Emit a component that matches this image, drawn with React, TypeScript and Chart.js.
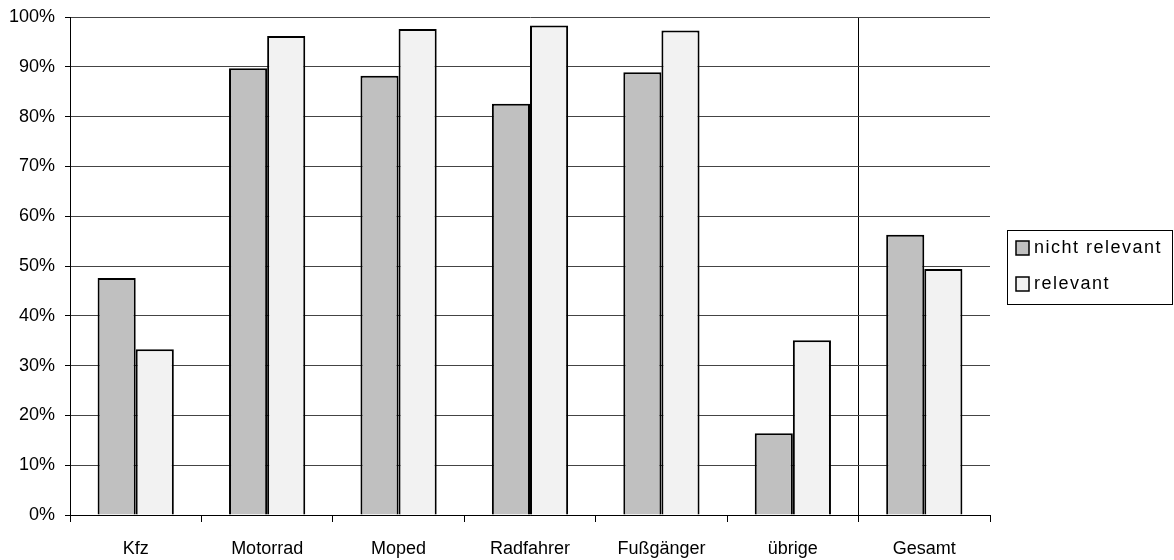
import React, { useEffect, useRef } from "react";
import { Chart, registerables } from "chart.js";

Chart.register(...registerables);

const categories = ["Kfz", "Motorrad", "Moped", "Radfahrer", "Fußgänger", "übrige", "Gesamt"];
const nichtRelevant = [47.6, 89.7, 88.2, 82.6, 88.9, 16.4, 56.3];
const relevant = [33.3, 96.2, 97.6, 98.3, 97.3, 35.1, 49.4];
const seriesNames = ["nicht relevant", "relevant"];
const seriesColors = ["#c0c0c0", "#f2f2f2"];

const FONT = "'Liberation Sans', Arial, sans-serif";

const legendPlugin = {
  id: "boxLegend",
  afterDraw(chart: any) {
    const ctx = chart.ctx;
    ctx.save();
    ctx.strokeStyle = "#000";
    ctx.lineWidth = 1;
    ctx.strokeRect(1007.5, 230.5, 165, 74);
    const rows = [248, 284];
    chart.data.datasets.forEach((ds: any, i: number) => {
      const cy = rows[i];
      ctx.fillStyle = ds.backgroundColor;
      ctx.fillRect(1016, cy - 7, 13, 14);
      ctx.lineWidth = 1.5;
      ctx.strokeStyle = "#000";
      ctx.strokeRect(1016, cy - 7, 13, 14);
      ctx.fillStyle = "#000";
      ctx.font = `18px ${FONT}`;
      (ctx as any).letterSpacing = "1.5px";
      ctx.textBaseline = "middle";
      ctx.textAlign = "left";
      ctx.fillText(ds.label, 1034, cy);
      (ctx as any).letterSpacing = "0px";
    });
    ctx.restore();
  },
};

export default function App() {
  const ref = useRef<HTMLCanvasElement | null>(null);
  useEffect(() => {
    if (!ref.current) return;
    const chart = new Chart(ref.current, {
      type: "bar",
      data: {
        labels: categories,
        datasets: [
          {
            label: seriesNames[0],
            data: nichtRelevant,
            backgroundColor: seriesColors[0],
            borderColor: "#000",
            borderWidth: 2,
          },
          {
            label: seriesNames[1],
            data: relevant,
            backgroundColor: seriesColors[1],
            borderColor: "#000",
            borderWidth: 2,
          },
        ],
      },
      options: {
        animation: false,
        responsive: false,
        maintainAspectRatio: false,
        devicePixelRatio: 1,
        layout: { padding: { top: 17, right: 184, bottom: 0, left: 0 } },
        datasets: { bar: { categoryPercentage: 0.58, barPercentage: 1 } },
        plugins: { legend: { display: false }, tooltip: { enabled: false } },
        scales: {
          x: {
            offset: true,
            afterFit: (s: any) => {
              s.height = 45;
              s.paddingLeft = 0;
              s.paddingRight = 0;
            },
            grid: {
              offset: true,
              drawOnChartArea: true,
              tickLength: 7,
              color: (c: any) => (c.index === 6 ? "#000" : "rgba(0,0,0,0)"),
              tickColor: "#000",
              lineWidth: 1,
            },
            border: { display: true, color: "#000", width: 1 },
            ticks: {
              color: "#000",
              font: { family: FONT, size: 18 },
              padding: 16,
              maxRotation: 0,
            },
          },
          y: {
            min: 0,
            max: 100,
            afterFit: (s: any) => {
              s.width = 70;
              s.paddingTop = 0;
              s.paddingBottom = 0;
            },
            grid: {
              color: "#444",
              tickColor: "#000",
              lineWidth: 1,
              tickLength: 5,
            },
            border: { display: true, color: "#000", width: 1 },
            ticks: {
              stepSize: 10,
              color: "#000",
              font: { family: FONT, size: 18 },
              padding: 10,
              callback: (v: any) => `${v}%`,
            },
          },
        },
      },
      plugins: [legendPlugin],
    });
    return () => chart.destroy();
  }, []);
  return (
    <div style={{ position: "fixed", left: 0, top: 0, width: 1174, height: 560, background: "#fff" }}>
      <canvas ref={ref} width={1174} height={560} style={{ width: 1174, height: 560 }} />
    </div>
  );
}
